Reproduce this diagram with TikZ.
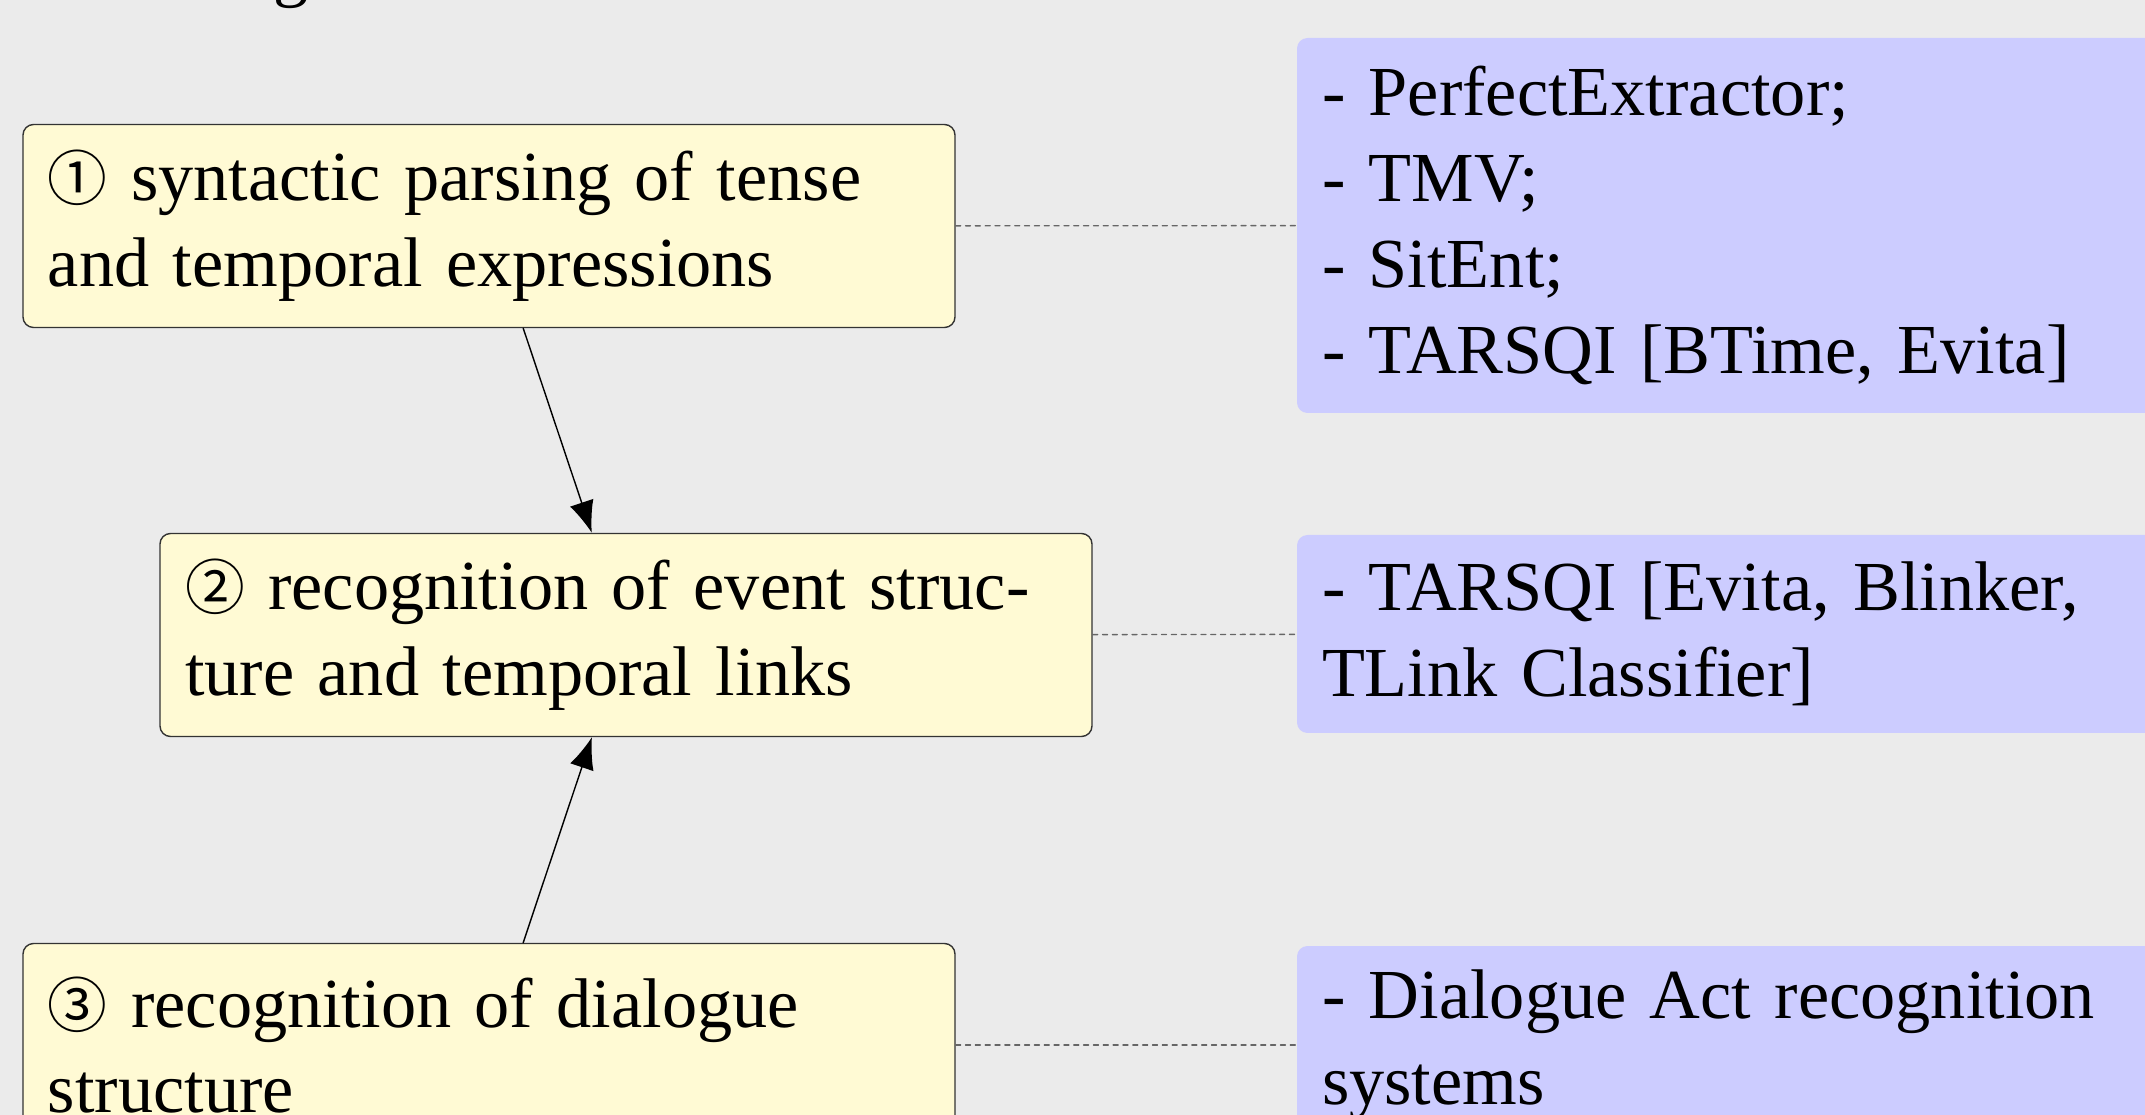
\documentclass[tikz,border=0pt]{standalone}
\usepackage{fontspec}
\setmainfont{Liberation Serif}
\newfontfamily\circfont{Noto Sans CJK SC}
\usetikzlibrary{arrows.meta}
\definecolor{tlbg}{HTML}{EBEBEB}
\definecolor{tlstage}{HTML}{FFFAD4}
\definecolor{tltools}{HTML}{CCCCFF}
\newcommand{\stagenum}[1]{{\circfont\fontsize{17pt}{17pt}\selectfont#1}}
\tikzset{
  every picture/.append style={line cap=round,line join=round},
  tl text/.style={font=\fontsize{20pt}{24.4pt}\selectfont,align=left,text width=8.82cm,inner xsep=0.25cm,inner ysep=0pt},
  tl stage/.style={tl text,draw=black!80,line width=0.4pt,fill=tlstage,rounded corners=3pt,minimum height=2.03cm},
  tl tools/.style={tl text,fill=tltools,rounded corners=3pt},
  tl link/.style={black!60,line width=0.4pt,dash pattern=on 1.4pt off 1.4pt},
  tl arrow/.style={line width=0.4pt,-{Latex[length=9pt,width=7pt]}}
}
\begin{document}
\begin{tikzpicture}
  \useasboundingbox (0,0) rectangle (21.45,-11.15);
  \clip (0,0) rectangle (21.45,-11.15);
  \fill[tlbg] (0,0) rectangle (21.45,-11.15);
  \node[font=\fontsize{20pt}{24pt}\selectfont,anchor=base west,inner sep=0pt] (title) at (2.73,0.06) {g};
  \node[tl stage] (parse) at (4.89,-2.26) {\stagenum{①} syntactic parsing of tense\\and temporal expressions};
  \node[tl stage] (event) at (6.26,-6.35) {\stagenum{②} recognition of event struc-\\ture and temporal links};
  \node[tl stage] (dialogue) at (4.89,-10.45) {\stagenum{③} recognition of dialogue\\structure};
  \node[tl tools,minimum height=3.75cm] (parsetools) at (17.63,-2.255) {- PerfectExtractor;\\- TMV;\\- SitEnt;\\- TARSQI [BTime, Evita]};
  \node[tl tools,minimum height=1.98cm] (eventtools) at (17.63,-6.34) {- TARSQI [Evita, Blinker,\\TLink Classifier]};
  \node[tl tools,minimum height=1.98cm] (dialtools) at (17.63,-10.45) {- Dialogue Act recognition\\systems};
  \draw[tl arrow] (parse) -- (event);
  \draw[tl arrow] (dialogue) -- (event);
  \draw[tl link] (parse) -- (parsetools);
  \draw[tl link] (event) -- (eventtools);
  \draw[tl link] (dialogue) -- (dialtools);
\end{tikzpicture}
\end{document}
